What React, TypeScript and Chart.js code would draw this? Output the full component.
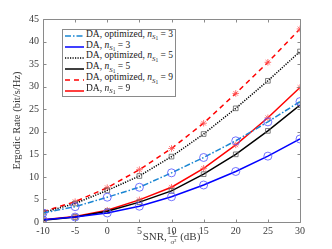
import React, { useEffect, useRef } from "react";
import { Chart, registerables } from "chart.js";
Chart.register(...registerables);

const snr = [-10, -5, 0, 5, 10, 15, 20, 25, 30];
const optN3 = [2.0, 3.4, 5.5, 7.7, 10.9, 14.3, 18.0, 22.2, 26.7];
const daN3 = [0.5, 1.1, 2.0, 3.5, 5.6, 8.2, 11.2, 14.6, 18.4];
const optN5 = [2.1, 4.1, 7.0, 10.2, 14.5, 19.5, 25.2, 31.3, 37.8];
const daN5 = [0.4, 1.1, 2.4, 4.4, 6.9, 10.6, 15.0, 20.2, 25.9];
const optN9 = [2.3, 4.5, 7.6, 11.6, 16.3, 21.9, 28.5, 35.4, 42.8];
const daN9 = [0.5, 1.2, 2.6, 4.9, 7.7, 11.9, 17.1, 23.1, 29.8];
const xTicks = [-10, -5, 0, 5, 10, 15, 20, 25, 30];
const yTicks = [0, 5, 10, 15, 20, 25, 30, 35, 40, 45];

const CYAN = "#1a86d2";
const BLUE = "#0000ff";
const BLACK = "#000000";
const RED = "#ff0000";
const FONT = '"Liberation Serif", "DejaVu Serif", serif';
const TXT = "#3a3a3a";

const legendItems = [
  { opt: true, n: "3", color: CYAN, dash: "6,2,1.5,2" },
  { opt: false, n: "3", color: BLUE, dash: "" },
  { opt: true, n: "5", color: BLACK, dash: "1.2,1.3" },
  { opt: false, n: "5", color: BLACK, dash: "" },
  { opt: true, n: "9", color: RED, dash: "5,4" },
  { opt: false, n: "9", color: RED, dash: "" },
];

const boxPlugin = {
  id: "boxTicks",
  afterDraw(chart: any) {
    const { ctx, chartArea } = chart;
    const xs = chart.scales.x;
    const ys = chart.scales.y;
    ctx.save();
    ctx.strokeStyle = "#8a8a8a";
    ctx.lineWidth = 1;
    const l = Math.round(chartArea.left) + 0.5;
    const r = Math.round(chartArea.right) + 0.5;
    const t = Math.round(chartArea.top) + 0.5;
    const b = Math.round(chartArea.bottom) + 0.5;
    ctx.beginPath();
    ctx.rect(l, t, r - l, b - t);
    const tl = 3;
    xTicks.forEach((v) => {
      const px = Math.round(xs.getPixelForValue(v)) + 0.5;
      ctx.moveTo(px, b);
      ctx.lineTo(px, b - tl);
      ctx.moveTo(px, t);
      ctx.lineTo(px, t + tl);
    });
    yTicks.forEach((v) => {
      const py = Math.round(ys.getPixelForValue(v)) + 0.5;
      ctx.moveTo(l, py);
      ctx.lineTo(l + tl, py);
      ctx.moveTo(r, py);
      ctx.lineTo(r - tl, py);
    });
    ctx.stroke();

    // x axis title with fraction
    ctx.fillStyle = TXT;
    ctx.textBaseline = "alphabetic";
    const big = "11px " + FONT;
    const small = "7px " + FONT;
    const a = "SNR, ";
    const bTxt = " (dB)";
    ctx.font = big;
    const wa = ctx.measureText(a).width;
    const wb = ctx.measureText(bTxt).width;
    ctx.font = small;
    const wn = ctx.measureText("1").width;
    const wd = ctx.measureText("σ²").width;
    const wf = Math.max(wn, wd) + 2;
    const cx = (chartArea.left + chartArea.right) / 2;
    const base = 240;
    let x0 = cx - (wa + wf + wb) / 2;
    ctx.font = big;
    ctx.fillText(a, x0, base);
    x0 += wa;
    ctx.font = small;
    ctx.fillText("1", x0 + (wf - wn) / 2, base - 5);
    ctx.fillText("σ²", x0 + (wf - wd) / 2, base + 3.5);
    ctx.beginPath();
    ctx.strokeStyle = TXT;
    ctx.lineWidth = 0.6;
    ctx.moveTo(x0, base - 3.5);
    ctx.lineTo(x0 + wf, base - 3.5);
    ctx.stroke();
    x0 += wf;
    ctx.font = big;
    ctx.fillText(bTxt, x0, base);
    ctx.restore();
  },
};

function mk(label: string, data: number[], color: string, dash: number[], style: string, pColor: string, radius: number) {
  return {
    label,
    data: snr.map((x, i) => ({ x, y: data[i] })),
    borderColor: color,
    backgroundColor: "transparent",
    borderWidth: 1.5,
    borderDash: dash,
    pointStyle: style,
    pointRadius: radius,
    pointBorderColor: pColor,
    pointBackgroundColor: "transparent",
    pointBorderWidth: 0.8,
    tension: 0,
  };
}

function Sub() {
  return (
    <span>
      <i>n</i>
      <span style={{ fontSize: "0.72em", verticalAlign: "-0.35em" }}>
        <i>S</i>
        <span style={{ fontSize: "0.8em", verticalAlign: "-0.25em" }}>1</span>
      </span>
    </span>
  );
}

export default function App() {
  const ref = useRef<HTMLCanvasElement | null>(null);
  useEffect(() => {
    document.body.style.margin = "0";
    const chart = new Chart(ref.current as HTMLCanvasElement, {
      type: "line",
      data: {
        datasets: [
          mk("DA, optimized, n=3", optN3, CYAN, [6, 2, 1.5, 2], "circle", "#5050ff", 4),
          mk("DA, n=3", daN3, BLUE, [], "circle", "#5050ff", 4),
          mk("DA, optimized, n=5", optN5, BLACK, [1.2, 1.3], "rect", "#606060", 3.3),
          mk("DA, n=5", daN5, BLACK, [], "rect", "#606060", 3.3),
          mk("DA, optimized, n=9", optN9, RED, [5, 4], "star", "#ff5050", 3.3),
          mk("DA, n=9", daN9, RED, [], "star", "#ff5050", 3.3),
        ] as any,
      },
      options: {
        animation: false,
        responsive: false,
        maintainAspectRatio: false,
        layout: { padding: { left: 0, right: 32, top: 19, bottom: 0 } },
        plugins: { legend: { display: false }, tooltip: { enabled: false } },
        scales: {
          x: {
            type: "linear",
            min: -10,
            max: 30,
            afterBuildTicks: (s: any) => {
              s.ticks = xTicks.map((v) => ({ value: v }));
            },
            afterFit: (s: any) => {
              s.height = 27;
            },
            grid: { display: false, drawTicks: false },
            border: { display: false },
            ticks: { font: { family: FONT, size: 10 }, color: TXT, padding: 3, maxRotation: 0 },
          },
          y: {
            type: "linear",
            min: 0,
            max: 45,
            afterBuildTicks: (s: any) => {
              s.ticks = yTicks.map((v) => ({ value: v }));
            },
            afterFit: (s: any) => {
              s.width = 43;
            },
            grid: { display: false, drawTicks: false },
            border: { display: false },
            ticks: { font: { family: FONT, size: 10 }, color: TXT, padding: 4 },
            title: {
              display: true,
              text: "Ergodic Rate (bit/s/Hz)",
              font: { family: FONT, size: 10.5 },
              color: TXT,
              padding: { top: 11, bottom: 0 },
            },
          },
        },
      },
      plugins: [boxPlugin],
    } as any);
    return () => chart.destroy();
  }, []);

  return (
    <div style={{ position: "fixed", left: 0, top: 0, width: 332, height: 249, background: "#fff" }}>
      <canvas ref={ref} width={332} height={249} style={{ width: 332, height: 249, display: "block" }} />
      <div
        style={{
          position: "absolute",
          left: 62,
          top: 29,
          width: 114,
          height: 68,
          border: "1px solid #8a8a8a",
          background: "#fff",
          fontFamily: FONT,
          fontSize: 9.5,
          color: "#1a1a1a",
          boxSizing: "border-box",
          paddingTop: 1,
        }}
      >
        {legendItems.map((it, i) => (
          <div key={i} style={{ height: 10.9, lineHeight: "10.9px", display: "flex", alignItems: "center", whiteSpace: "nowrap" }}>
            <svg width={21} height={6} style={{ marginLeft: 1, marginRight: 1, flex: "none" }}>
              <line x1={1} y1={3} x2={20} y2={3} stroke={it.color} strokeWidth={1.5} strokeDasharray={it.dash || undefined} />
            </svg>
            <span>
              {it.opt ? "DA, optimized, " : "DA, "}
              <Sub /> = {it.n}
            </span>
          </div>
        ))}
      </div>
    </div>
  );
}
